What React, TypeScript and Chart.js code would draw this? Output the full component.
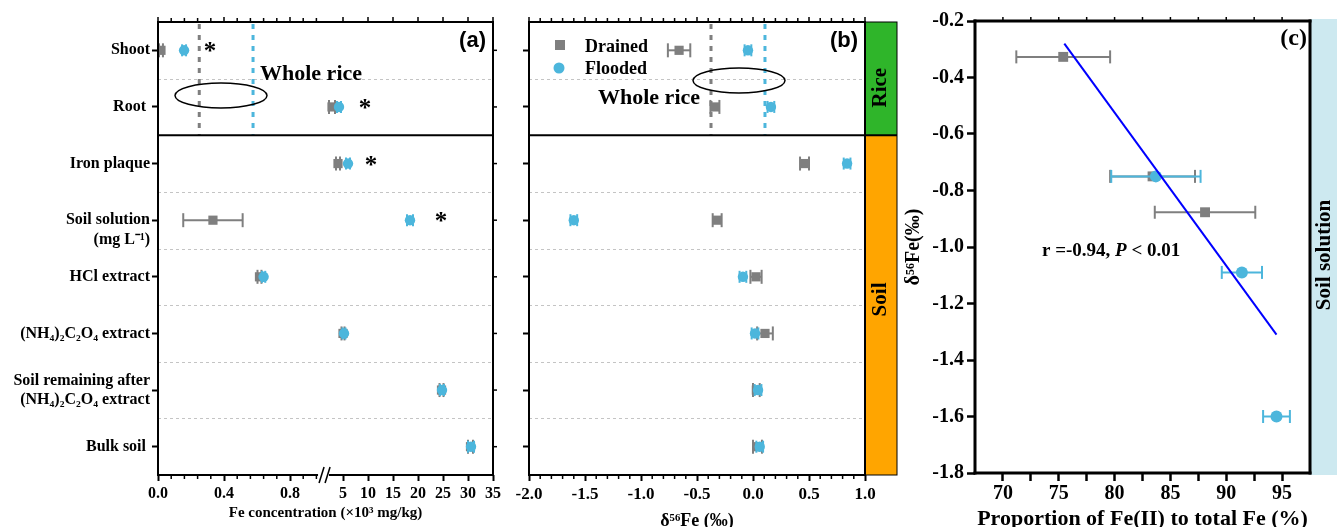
import React, { useEffect, useRef } from 'react';
import { Chart, registerables, LinearScale } from 'chart.js';

Chart.register(...registerables);

// ---------------- data ----------------
const categories = ['Shoot', 'Root', 'Iron plaque', 'Soil solution', 'HCl extract', '(NH4)2C2O4 extract', 'Soil remaining after (NH4)2C2O4 extract', 'Bulk soil'];
const categoryTickLabels: (string | string[])[] = [
  'Shoot', 'Root ', 'Iron plaque', ['', 'Soil solution', '(mg L⁻¹)'], 'HCl extract',
  '(NH₄)₂C₂O₄ extract', ['Soil remaining after', '(NH₄)₂C₂O₄ extract'], 'Bulk soil ',
];

// panel (a): Fe concentration (x10^3 mg/kg)
const concDrained = [0.018, 2.8, 4.0, 0.333, 0.615, 5.0, 24.7, 30.5];
const concDrainedErr = [0.012, 0.6, 0.4, 0.18, 0.012, 0.3, 0.4, 0.5];
const concFlooded = [0.158, 4.2, 6.0, 18.4, 0.64, 5.2, 24.8, 30.6];
const concFloodedErr = [0.012, 0.4, 0.4, 0.6, 0.01, 0.3, 0.4, 0.6];
const concWholeRice = [0.25, 0.576]; // drained, flooded
const concSignificance = [0.315, 9.4, 10.6, 24.6]; // '*' for Shoot, Root, Iron plaque, Soil solution
const concTicks = [0, 0.4, 0.8, 5, 10, 15, 20, 25, 30, 35];
const concMinorTicks = [0.08, 0.16, 0.24, 0.32, 0.48, 0.56, 0.64, 0.72, 0.88, 0.96];

// panel (b): delta56Fe (permil)
const deltaDrained = [-0.66, -0.34, 0.46, -0.32, 0.027, 0.107, 0.03, 0.04];
const deltaDrainedErr = [0.1, 0.04, 0.04, 0.04, 0.05, 0.07, 0.03, 0.04];
const deltaFlooded = [-0.045, 0.16, 0.84, -1.6, -0.09, 0.018, 0.045, 0.06];
const deltaFloodedErr = [0.03, 0.03, 0.03, 0.03, 0.03, 0.03, 0.03, 0.03];
const deltaWholeRice = [-0.375, 0.107];
const deltaTicks = [-2, -1.5, -1, -0.5, 0, 0.5, 1];
const deltaMinorTicks = [-1.9, -1.8, -1.7, -1.6, -1.4, -1.3, -1.2, -1.1, -0.9, -0.8, -0.7, -0.6, -0.4, -0.3, -0.2, -0.1, 0.1, 0.2, 0.3, 0.4, 0.6, 0.7, 0.8, 0.9];

// panel (c): soil solution, Fe(II) proportion vs delta56Fe
const fe2Drained = [75.4, 83.4, 88.1];
const fe2DrainedErr = [4.2, 3.8, 4.5];
const solDeltaDrained = [-0.327, -0.75, -0.877];
const fe2Flooded = [83.7, 91.4, 94.5];
const fe2FloodedErr = [4.0, 1.8, 1.2];
const solDeltaFlooded = [-0.75, -1.09, -1.6];
const fitX = [75.5, 94.5];
const fitY = [-0.28, -1.31];
const fe2Ticks = [70, 72.5, 75, 77.5, 80, 82.5, 85, 87.5, 90, 92.5, 95];
const solDeltaTicks = [-1.8, -1.6, -1.4, -1.2, -1.0, -0.8, -0.6, -0.4, -0.2];

// ---------------- style ----------------
const SERIF = "'Liberation Serif', 'Times New Roman', serif";
const SANS = "'Liberation Sans', Arial, sans-serif";
const GRAY = '#7f7f7f';
const BLUE = '#4cb6dc';
const GRID = '#c4c4c4';
const bold = (s: number) => `bold ${s}px ${SERIF}`;

Chart.defaults.font.family = SERIF;
Chart.defaults.color = '#000';

// broken linear axis for panel (a)
const BREAK_AT = 1;
const BREAK_FRAC = 165 / 335;
class BrokenLinearScale extends LinearScale {
  static id = 'brokenLinear';
  static defaults = LinearScale.defaults;
  getPixelForValue(value: any) {
    if (value === null || value === undefined || isNaN(value)) return NaN;
    const min = (this as any).min, max = (this as any).max;
    const fr = value <= BREAK_AT
      ? ((value - min) / (BREAK_AT - min)) * BREAK_FRAC
      : BREAK_FRAC + ((value - BREAK_AT) / (max - BREAK_AT)) * (1 - BREAK_FRAC);
    return (this as any).getPixelForDecimal(fr);
  }
  getValueForPixel(pixel: number) {
    const fr = (this as any).getDecimalForPixel(pixel);
    const min = (this as any).min, max = (this as any).max;
    return fr <= BREAK_FRAC
      ? min + (fr / BREAK_FRAC) * (BREAK_AT - min)
      : BREAK_AT + ((fr - BREAK_FRAC) / (1 - BREAK_FRAC)) * (max - BREAK_AT);
  }
}
Chart.register(BrokenLinearScale as any);

// ---------------- helpers ----------------
function seg(ctx: CanvasRenderingContext2D, x1: number, y1: number, x2: number, y2: number) {
  ctx.beginPath();
  ctx.moveTo(x1, y1);
  ctx.lineTo(x2, y2);
  ctx.stroke();
}
function txt(ctx: CanvasRenderingContext2D, s: string, x: number, y: number, font: string, align: CanvasTextAlign = 'left', baseline: CanvasTextBaseline = 'alphabetic') {
  ctx.save();
  ctx.font = font;
  ctx.fillStyle = '#000';
  ctx.textAlign = align;
  ctx.textBaseline = baseline;
  ctx.fillText(s, x, y);
  ctx.restore();
}
function vtxt(ctx: CanvasRenderingContext2D, s: string, cx: number, cy: number, font: string) {
  ctx.save();
  ctx.translate(cx, cy);
  ctx.rotate(-Math.PI / 2);
  ctx.font = font;
  ctx.fillStyle = '#000';
  ctx.textAlign = 'center';
  ctx.textBaseline = 'middle';
  ctx.fillText(s, 0, 0);
  ctx.restore();
}
function ellipse(ctx: CanvasRenderingContext2D, cx: number, cy: number, rx: number, ry: number) {
  ctx.save();
  ctx.strokeStyle = '#000';
  ctx.lineWidth = 1.5;
  ctx.beginPath();
  ctx.ellipse(cx, cy, rx, ry, 0, 0, Math.PI * 2);
  ctx.stroke();
  ctx.restore();
}

const errorBarPlugin = {
  id: 'errorBars',
  beforeDatasetDraw(chart: any, args: any) {
    const ds = chart.data.datasets[args.index];
    if (!ds.errX) return;
    const xs = chart.scales.x, ys = chart.scales.y, ctx = chart.ctx;
    const cap = ds.capHalf || 6;
    ctx.save();
    ctx.strokeStyle = ds.pointBackgroundColor;
    ctx.lineWidth = ds.errWidth || 2;
    ds.data.forEach((p: any, i: number) => {
      const e = ds.errX[i];
      const x1 = xs.getPixelForValue(p.x - e), x2 = xs.getPixelForValue(p.x + e);
      const y = ys.getPixelForValue(p.y);
      seg(ctx, x1, y, x2, y);
      seg(ctx, x1, y - cap, x1, y + cap);
      seg(ctx, x2, y - cap, x2, y + cap);
    });
    ctx.restore();
  },
};

// category separators shared by (a) and (b)
function drawCategoryGrid(chart: any, wholeRice: number[]) {
  const { ctx, chartArea: a, scales } = chart;
  const y = scales.y, x = scales.x;
  ctx.save();
  ctx.strokeStyle = GRID;
  ctx.lineWidth = 1;
  ctx.setLineDash([3, 3]);
  [0.5, 2.5, 3.5, 4.5, 5.5, 6.5].forEach((v) => {
    const py = Math.round(y.getPixelForValue(v)) + 0.5;
    seg(ctx, a.left, py, a.right, py);
  });
  ctx.restore();
  // whole rice dashed lines (rice section only)
  const yTop = y.getPixelForValue(-0.5), yBot = y.getPixelForValue(1.5);
  [GRAY, BLUE].forEach((c, i) => {
    ctx.save();
    ctx.strokeStyle = c;
    ctx.lineWidth = 3;
    ctx.setLineDash([5, 6]);
    const px = x.getPixelForValue(wholeRice[i]);
    seg(ctx, px, yTop + 2, px, yBot);
    ctx.restore();
  });
}

function catAxis(width: number, showLabels: boolean) {
  return {
    type: 'linear',
    reverse: true,
    min: -0.5,
    max: 7.5,
    afterBuildTicks: (s: any) => {
      s.ticks = categories.map((_, i) => ({ value: i }));
    },
    afterFit: (s: any) => {
      s.width = width;
    },
    ticks: {
      display: showLabels,
      autoSkip: false,
      padding: 2,
      color: '#000',
      font: { family: SERIF, size: 16, weight: 'bold' },
      callback: (v: number) => categoryTickLabels[v],
    },
    grid: { drawOnChartArea: false, drawTicks: true, tickLength: 6, tickWidth: 2, tickColor: '#000' },
    border: { display: false },
  };
}

// ---------------- panel (a) ----------------
const panelAPlugin = {
  id: 'panelA',
  beforeDatasetsDraw(chart: any) {
    drawCategoryGrid(chart, concWholeRice);
  },
  afterDatasetsDraw(chart: any) {
    const { ctx, chartArea: a, scales } = chart;
    const x = scales.x, y = scales.y;
    concSignificance.forEach((v, i) => {
      txt(ctx, '*', x.getPixelForValue(v), y.getPixelForValue(i) + 9, bold(25), 'center');
    });
    ellipse(ctx, a.left + 63, a.top + 73.5, 46, 12.5);
    txt(ctx, 'Whole rice', a.left + 102, a.top + 58, bold(22));
    txt(ctx, '(a)', a.right - 7, a.top + 25, `bold 22px ${SANS}`, 'right');
  },
  afterDraw(chart: any) {
    const { ctx, chartArea: a, scales } = chart;
    const x = scales.x, y = scales.y;
    ctx.save();
    ctx.strokeStyle = '#000';
    ctx.lineWidth = 2;
    seg(ctx, a.left, a.top, a.right, a.top);
    seg(ctx, a.left, a.top - 1, a.left, a.bottom + 1);
    seg(ctx, a.right, a.top - 1, a.right, a.bottom + 1);
    const b1 = x.getPixelForValue(0.97), b2 = x.getPixelForValue(2.2);
    seg(ctx, a.left - 1, a.bottom, b1, a.bottom);
    seg(ctx, b2, a.bottom, a.right + 1, a.bottom);
    // break marks
    ctx.lineWidth = 1.5;
    seg(ctx, b1 + 1, a.bottom + 8, b1 + 6, a.bottom - 8);
    seg(ctx, b1 + 7, a.bottom + 8, b1 + 12, a.bottom - 8);
    // rice / soil separator
    ctx.lineWidth = 2;
    const ys = y.getPixelForValue(1.5);
    seg(ctx, a.left, ys, a.right, ys);
    // minor ticks bottom, mirrored ticks top / right
    ctx.lineWidth = 1.5;
    concMinorTicks.forEach((v) => {
      const px = x.getPixelForValue(v);
      seg(ctx, px, a.bottom, px, a.bottom + 4);
      seg(ctx, px, a.top, px, a.top - 4);
    });
    concTicks.forEach((v) => {
      const px = x.getPixelForValue(v);
      seg(ctx, px, a.top, px, a.top - 5);
    });
    categories.forEach((_, i) => {
      const py = y.getPixelForValue(i);
      seg(ctx, a.right, py, a.right + 4, py);
    });
    ctx.restore();
  },
};

function buildA(): any {
  return {
    type: 'scatter',
    data: {
      datasets: [
        {
          label: 'Flooded',
          data: concFlooded.map((v, i) => ({ x: v, y: i })),
          errX: concFloodedErr,
          capHalf: 6,
          pointStyle: 'circle',
          pointRadius: 5.2,
          pointBackgroundColor: BLUE,
          pointBorderColor: BLUE,
          pointBorderWidth: 0,
        },
        {
          label: 'Drained',
          data: concDrained.map((v, i) => ({ x: v, y: i })),
          errX: concDrainedErr,
          capHalf: 7,
          pointStyle: 'rect',
          pointRadius: 6.5,
          pointBackgroundColor: GRAY,
          pointBorderColor: GRAY,
          pointBorderWidth: 0,
        },
      ],
    },
    options: {
      responsive: false,
      animation: false,
      events: [],
      layout: { padding: { top: 22, right: 17, left: 0, bottom: 0 } },
      plugins: { legend: { display: false }, tooltip: { enabled: false } },
      scales: {
        x: {
          type: 'brokenLinear',
          min: 0,
          max: 35,
          afterBuildTicks: (s: any) => {
            s.ticks = concTicks.map((v) => ({ value: v }));
          },
          afterFit: (s: any) => {
            s.height = 65;
          },
          ticks: {
            autoSkip: false,
            maxRotation: 0,
            padding: 3,
            color: '#000',
            font: { family: SERIF, size: 16, weight: 'bold' },
            callback: (v: number) => (v < 1 ? v.toFixed(1) : String(v)),
          },
          grid: { drawOnChartArea: false, tickLength: 6, tickWidth: 2, tickColor: '#000' },
          border: { display: false },
          title: {
            display: true,
            text: 'Fe concentration (×10³ mg/kg)',
            color: '#000',
            font: { family: SERIF, size: 15, weight: 'bold' },
            padding: { top: 0, bottom: 18 },
          },
        },
        y: catAxis(158, true),
      },
    },
    plugins: [errorBarPlugin, panelAPlugin],
  };
}

// ---------------- panel (b) ----------------
const panelBPlugin = {
  id: 'panelB',
  beforeDatasetsDraw(chart: any) {
    drawCategoryGrid(chart, deltaWholeRice);
  },
  afterDatasetsDraw(chart: any) {
    const { ctx, chartArea: a } = chart;
    // legend
    ctx.save();
    ctx.fillStyle = GRAY;
    ctx.fillRect(a.left + 26, 40, 10, 10);
    ctx.fillStyle = BLUE;
    ctx.beginPath();
    ctx.arc(a.left + 30, 68, 5.5, 0, Math.PI * 2);
    ctx.fill();
    ctx.restore();
    txt(ctx, 'Drained', a.left + 56, 52, bold(18));
    txt(ctx, 'Flooded', a.left + 56, 74, bold(18));
    ellipse(ctx, a.left + 210, a.top + 58.5, 46, 12.5);
    txt(ctx, 'Whole rice', a.left + 69, 104, bold(22));
    txt(ctx, '(b)', a.right - 7, a.top + 25, `bold 22px ${SANS}`, 'right');
  },
  afterDraw(chart: any) {
    const { ctx, chartArea: a, scales } = chart;
    const x = scales.x, y = scales.y;
    const ys = y.getPixelForValue(1.5);
    const bandR = a.right + 32;
    ctx.save();
    // side band
    ctx.fillStyle = '#2fb52a';
    ctx.fillRect(a.right, a.top, bandR - a.right, ys - a.top);
    ctx.fillStyle = '#ffa500';
    ctx.fillRect(a.right, ys, bandR - a.right, a.bottom - ys);
    ctx.strokeStyle = '#000';
    ctx.lineWidth = 1;
    ctx.strokeRect(a.right, a.top, bandR - a.right, a.bottom - a.top);
    ctx.lineWidth = 2;
    seg(ctx, a.left, a.top, a.right, a.top);
    seg(ctx, a.left, a.top - 1, a.left, a.bottom + 1);
    seg(ctx, a.right, a.top - 1, a.right, a.bottom + 1);
    seg(ctx, a.left - 1, a.bottom, a.right + 1, a.bottom);
    seg(ctx, a.left, ys, bandR, ys);
    ctx.lineWidth = 1.5;
    deltaMinorTicks.forEach((v) => {
      const px = x.getPixelForValue(v);
      seg(ctx, px, a.bottom, px, a.bottom + 4);
      seg(ctx, px, a.top, px, a.top - 4);
    });
    deltaTicks.forEach((v) => {
      const px = x.getPixelForValue(v);
      seg(ctx, px, a.top, px, a.top - 5);
    });
    ctx.restore();
    const cx = (a.right + bandR) / 2;
    vtxt(ctx, 'Rice', cx, (a.top + ys) / 2 + 9, bold(21));
    vtxt(ctx, 'Soil', cx, y.getPixelForValue(4.4), bold(21));
  },
};

function buildB(): any {
  return {
    type: 'scatter',
    data: {
      datasets: [
        {
          label: 'Flooded',
          data: deltaFlooded.map((v, i) => ({ x: v, y: i })),
          errX: deltaFloodedErr,
          capHalf: 6,
          pointStyle: 'circle',
          pointRadius: 5.2,
          pointBackgroundColor: BLUE,
          pointBorderColor: BLUE,
          pointBorderWidth: 0,
        },
        {
          label: 'Drained',
          data: deltaDrained.map((v, i) => ({ x: v, y: i })),
          errX: deltaDrainedErr,
          capHalf: 7,
          pointStyle: 'rect',
          pointRadius: 6.5,
          pointBackgroundColor: GRAY,
          pointBorderColor: GRAY,
          pointBorderWidth: 0,
        },
      ],
    },
    options: {
      responsive: false,
      animation: false,
      events: [],
      layout: { padding: { top: 22, right: 35, left: 0, bottom: 0 } },
      plugins: { legend: { display: false }, tooltip: { enabled: false } },
      scales: {
        x: {
          type: 'linear',
          min: -2,
          max: 1,
          afterBuildTicks: (s: any) => {
            s.ticks = deltaTicks.map((v) => ({ value: v }));
          },
          afterFit: (s: any) => {
            s.height = 65;
          },
          ticks: {
            autoSkip: false,
            maxRotation: 0,
            padding: 3,
            color: '#000',
            font: { family: SERIF, size: 17, weight: 'bold' },
            callback: (v: number) => v.toFixed(1),
          },
          grid: { drawOnChartArea: false, tickLength: 6, tickWidth: 2, tickColor: '#000' },
          border: { display: false },
          title: {
            display: true,
            text: 'δ⁵⁶Fe (‰)',
            color: '#000',
            font: { family: SERIF, size: 18, weight: 'bold' },
            padding: { top: 0, bottom: 8 },
          },
        },
        y: catAxis(19, false),
      },
    },
    plugins: [errorBarPlugin, panelBPlugin],
  };
}

// ---------------- panel (c) ----------------
const panelCPlugin = {
  id: 'panelC',
  afterDraw(chart: any) {
    const { ctx, chartArea: a, width } = chart;
    ctx.save();
    ctx.fillStyle = '#cde9f0';
    ctx.fillRect(a.right, a.top - 2, width - a.right, a.bottom - a.top + 4);
    ctx.strokeStyle = '#000';
    ctx.lineWidth = 3;
    seg(ctx, a.left - 1.5, a.top, a.right + 1.5, a.top);
    seg(ctx, a.left - 1.5, a.bottom, a.right + 1.5, a.bottom);
    seg(ctx, a.left, a.top - 1.5, a.left, a.bottom + 1.5);
    seg(ctx, a.right, a.top - 1.5, a.right, a.bottom + 1.5);
    ctx.lineWidth = 1.5;
    fe2Ticks.forEach((v) => {
      const px = chart.scales.x.getPixelForValue(v);
      seg(ctx, px, a.top, px, a.top - 4);
    });
    ctx.restore();
    vtxt(ctx, 'Soil solution', (a.right + width) / 2 + 1, 255, bold(21));
    txt(ctx, '(c)', a.right - 3, a.top + 24, bold(24), 'right');
    // correlation annotation
    const x0 = a.left + 67, yb = 256;
    ctx.save();
    ctx.font = bold(19);
    const p1 = 'r =-0.94, ';
    const w1 = ctx.measureText(p1).width;
    ctx.font = `italic bold 19px ${SERIF}`;
    const w2 = ctx.measureText('P').width;
    ctx.restore();
    txt(ctx, p1, x0, yb, bold(19));
    txt(ctx, 'P', x0 + w1, yb, `italic bold 19px ${SERIF}`);
    txt(ctx, ' < 0.01', x0 + w1 + w2, yb, bold(19));
  },
};

function buildC(): any {
  return {
    type: 'scatter',
    data: {
      datasets: [
        {
          label: 'fit',
          data: fitX.map((v, i) => ({ x: v, y: fitY[i] })),
          showLine: true,
          borderColor: '#0000ff',
          borderWidth: 2,
          pointRadius: 0,
        },
        {
          label: 'Flooded',
          data: fe2Flooded.map((v, i) => ({ x: v, y: solDeltaFlooded[i] })),
          errX: fe2FloodedErr,
          capHalf: 6.5,
          pointStyle: 'circle',
          pointRadius: 6,
          pointBackgroundColor: BLUE,
          pointBorderColor: BLUE,
          pointBorderWidth: 0,
        },
        {
          label: 'Drained',
          data: fe2Drained.map((v, i) => ({ x: v, y: solDeltaDrained[i] })),
          errX: fe2DrainedErr,
          capHalf: 6.5,
          pointStyle: 'rect',
          pointRadius: 7,
          pointBackgroundColor: GRAY,
          pointBorderColor: GRAY,
          pointBorderWidth: 0,
        },
      ],
    },
    options: {
      responsive: false,
      animation: false,
      events: [],
      layout: { padding: { top: 21, right: 27, left: 0, bottom: 0 } },
      plugins: { legend: { display: false }, tooltip: { enabled: false } },
      scales: {
        x: {
          type: 'linear',
          min: 67.5,
          max: 97.5,
          afterBuildTicks: (s: any) => {
            s.ticks = fe2Ticks.map((v) => ({ value: v }));
          },
          afterFit: (s: any) => {
            s.height = 67;
          },
          ticks: {
            autoSkip: false,
            maxRotation: 0,
            padding: 1,
            color: '#000',
            font: { family: SERIF, size: 20, weight: 'bold' },
            callback: (v: number) => (v % 5 === 0 ? String(v) : ''),
          },
          grid: { drawOnChartArea: false, tickLength: 8, tickWidth: 2.5, tickColor: '#000' },
          border: { display: false },
          title: {
            display: true,
            text: 'Proportion of Fe(II) to total Fe (%)',
            color: '#000',
            font: { family: SERIF, size: 22, weight: 'bold' },
            padding: { top: 0, bottom: 7 },
          },
        },
        y: {
          type: 'linear',
          min: -1.8,
          max: -0.2,
          afterBuildTicks: (s: any) => {
            s.ticks = solDeltaTicks.map((v) => ({ value: v }));
          },
          afterFit: (s: any) => {
            s.width = 75;
          },
          ticks: {
            autoSkip: false,
            padding: 3,
            color: '#000',
            font: { family: SERIF, size: 20, weight: 'bold' },
            callback: (v: number) => v.toFixed(1),
          },
          grid: { drawOnChartArea: false, tickLength: 8, tickWidth: 2.5, tickColor: '#000' },
          border: { display: false },
          title: {
            display: true,
            text: 'δ⁵⁶Fe(‰)',
            color: '#000',
            font: { family: SERIF, size: 20, weight: 'bold' },
            padding: { top: 2, bottom: 0 },
          },
        },
      },
    },
    plugins: [errorBarPlugin, panelCPlugin],
  };
}

// ---------------- components ----------------
function ChartCanvas({ left, width, height, build }: { left: number; width: number; height: number; build: () => any }) {
  const ref = useRef<HTMLCanvasElement | null>(null);
  useEffect(() => {
    if (!ref.current) return;
    const chart = new Chart(ref.current, build());
    return () => chart.destroy();
  }, []);
  return (
    <canvas
      ref={ref}
      width={width}
      height={height}
      style={{ position: 'absolute', left, top: 0, width, height, display: 'block' }}
    />
  );
}

export default function App() {
  return (
    <div style={{ position: 'absolute', left: 0, top: 0, width: 1337, height: 527, overflow: 'hidden', background: '#fff' }}>
      <ChartCanvas left={0} width={510} height={540} build={buildA} />
      <ChartCanvas left={510} width={390} height={540} build={buildB} />
      <ChartCanvas left={900} width={437} height={540} build={buildC} />
    </div>
  );
}
